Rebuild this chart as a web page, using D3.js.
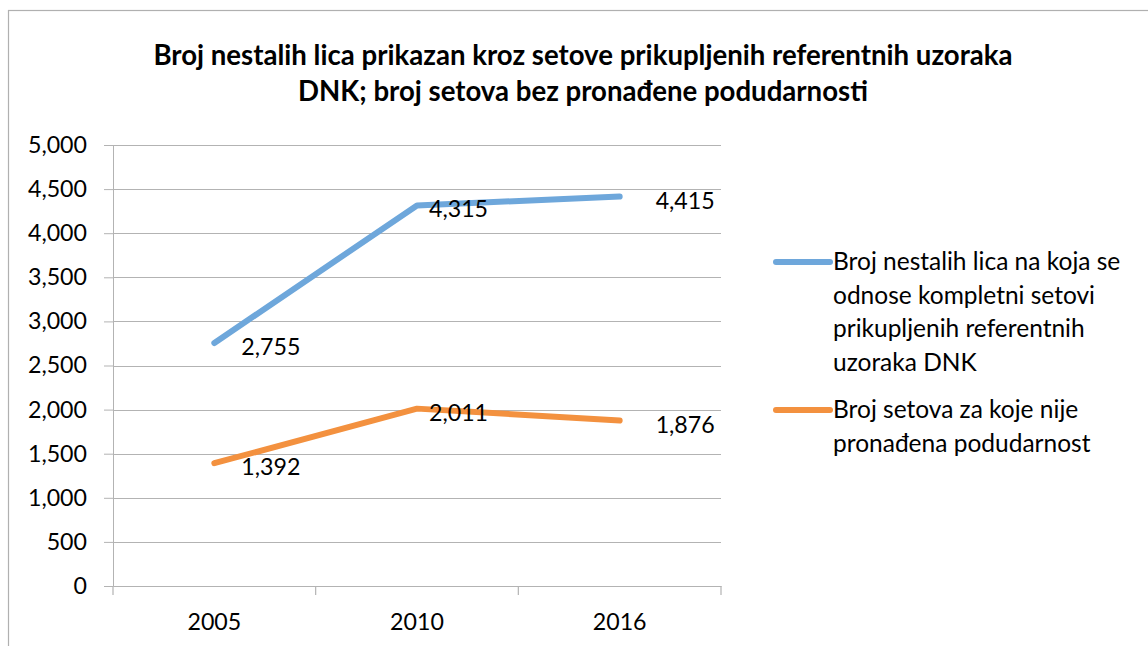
<!DOCTYPE html>
<html>
<head>
<meta charset="utf-8">
<script src="https://cdn.jsdelivr.net/npm/d3@7"></script>
<style>
  body { margin: 0; background: #fff; }
  text { font-family: Lato, "Open Sans", sans-serif; fill: #000; }
</style>
</head>
<body>
<div id="chart"></div>
<script>
const YEARS = ["2005", "2010", "2016"];
const COMPLETE_SETS = [2755, 4315, 4415];
const NO_MATCH_SETS = [1392, 2011, 1876];
const Y_TICKS = [0, 500, 1000, 1500, 2000, 2500, 3000, 3500, 4000, 4500, 5000];
const TITLE_LINES = [
  "Broj nestalih lica prikazan kroz setove prikupljenih referentnih uzoraka",
  "DNK; broj setova bez pronađene podudarnosti"
];
const SERIES_NAMES = [
  ["Broj nestalih lica na koja se", "odnose kompletni setovi", "prikupljenih referentnih", "uzoraka DNK"],
  ["Broj setova za koje nije", "pronađena podudarnost"]
];
const COLORS = ["#6ea7db", "#f3913f"];

const W = 1148, H = 646;
const FS = 23.2;      // numbers
const FS_LEG = 24.5;  // legend
const LABEL_DX = [27, 12, 36]; // data label nudge per category
const margin = { top: 145, left: 113, right: W - 721, bottom: H - 586 };
const width = W - margin.left - margin.right,
      height = H - margin.top - margin.bottom;

const root = d3.select("#chart").append("svg")
  .attr("width", W).attr("height", H);

// outer chart frame
root.append("rect")
  .attr("x", 8.5).attr("y", 10.5)
  .attr("width", W + 10).attr("height", H + 10)
  .attr("fill", "none").attr("stroke", "#b0b0b0").attr("stroke-width", 1.2);

// title
root.append("g").selectAll("text")
  .data(TITLE_LINES)
  .join("text")
  .attr("x", 583).attr("y", (d, i) => 65 + i * 36)
  .attr("text-anchor", "middle")
  .attr("font-weight", "bold")
  .attr("font-size", 27.6)
  .text(d => d);

const svg = root.append("g")
  .attr("transform", `translate(${margin.left}, ${margin.top})`);

/* -------------------- SCALES -------------------- */
const x = d3.scaleBand().domain(YEARS).range([0, width]);
const y = d3.scaleLinear().domain([0, 5000]).range([height, 0]);

// gridlines + y axis
const yAxis = svg.append("g")
  .call(d3.axisLeft(y).tickValues(Y_TICKS).tickSize(9).tickPadding(17).tickFormat(d3.format(",")));
yAxis.select(".domain").attr("stroke", "#b3b3b3");
yAxis.selectAll(".tick line").attr("stroke", "#b3b3b3");
yAxis.selectAll(".tick text").attr("font-size", FS).style("font-family", "Lato, sans-serif");

svg.append("g").selectAll("line")
  .data(Y_TICKS.filter(d => d > 0))
  .join("line")
  .attr("x1", 0).attr("x2", width)
  .attr("y1", d => Math.round(y(d)) + 0.5).attr("y2", d => Math.round(y(d)) + 0.5)
  .attr("stroke", "#b3b3b3").attr("stroke-width", 1.2);

// x axis
const xAxis = svg.append("g")
  .attr("transform", `translate(0, ${height})`)
  .call(d3.axisBottom(x).tickSize(0).tickPadding(28));
xAxis.select(".domain").attr("stroke", "#b3b3b3").attr("stroke-width", 1.2);
xAxis.selectAll(".tick text").attr("font-size", FS).style("font-family", "Lato, sans-serif");
svg.append("g").selectAll("line")
  .data([0, 1, 2, 3])
  .join("line")
  .attr("x1", i => i * x.step()).attr("x2", i => i * x.step())
  .attr("y1", height).attr("y2", height + 9)
  .attr("stroke", "#b3b3b3").attr("stroke-width", 1.2);

/* -------------------- LINES -------------------- */
const allSeries = [COMPLETE_SETS, NO_MATCH_SETS];
const line = d3.line()
  .x((d, i) => x(YEARS[i]) + x.bandwidth() / 2)
  .y(d => y(d));

allSeries.forEach((vals, s) => {
  svg.append("path")
    .datum(vals)
    .attr("d", line)
    .attr("fill", "none")
    .attr("stroke", COLORS[s])
    .attr("stroke-width", 6)
    .attr("stroke-linecap", "round")
    .attr("stroke-linejoin", "round");

  svg.append("g").selectAll("text")
    .data(vals)
    .join("text")
    .attr("x", (d, i) => x(YEARS[i]) + x.bandwidth() / 2 + LABEL_DX[i])
    .attr("y", d => y(d) + 12)
    .attr("font-size", FS)
    .text(d => d3.format(",")(d));
});

/* -------------------- LEGEND -------------------- */
const legendTop = [262, 410];
SERIES_NAMES.forEach((lines, s) => {
  const g = root.append("g");
  g.append("line")
    .attr("x1", 776).attr("x2", 830)
    .attr("y1", legendTop[s]).attr("y2", legendTop[s])
    .attr("stroke", COLORS[s]).attr("stroke-width", 6)
    .attr("stroke-linecap", "round");
  g.selectAll("text")
    .data(lines)
    .join("text")
    .attr("x", 833)
    .attr("y", (d, i) => legendTop[s] + 8 + i * 33.5)
    .attr("font-size", FS_LEG)
    .text(d => d);
});
</script>
</body>
</html>
